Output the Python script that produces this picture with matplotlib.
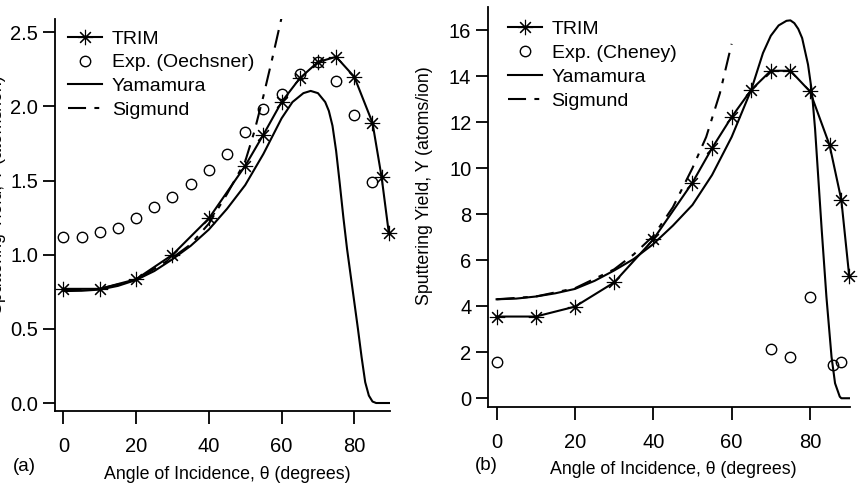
import matplotlib
matplotlib.use('Agg')
import matplotlib.pyplot as plt

plt.rcParams['font.family'] = ['Liberation Sans', 'DejaVu Sans']
plt.rcParams['lines.scale_dashes'] = False

# ---- panel (a) ----
trim_a_x = [0, 10, 20, 30, 40, 50, 55, 60, 65, 70, 75, 80, 85, 87.5, 89.5]
trim_a_y = [0.77, 0.77, 0.835, 1.0, 1.245, 1.60, 1.81, 2.03, 2.19, 2.30, 2.335, 2.20, 1.89, 1.525, 1.145]
exp_a_x = [0, 5, 10, 15, 20, 25, 30, 35, 40, 45, 50, 55, 60, 65, 70, 75, 80, 85]
exp_a_y = [1.12, 1.12, 1.155, 1.18, 1.25, 1.32, 1.39, 1.48, 1.57, 1.68, 1.83, 1.98, 2.085, 2.22,
           2.30, 2.17, 1.945, 1.49]
yam_a_x = [0, 5, 10, 15, 20, 25, 30, 35, 40, 45, 50, 55, 60, 63, 66, 68, 70, 72, 73, 74, 75, 76,
           77, 78, 80, 81, 82, 83, 84, 85, 86, 90]
yam_a_y = [0.755, 0.757, 0.765, 0.79, 0.83, 0.89, 0.97, 1.06, 1.17, 1.31, 1.47, 1.68, 1.92, 2.03,
           2.09, 2.105, 2.09, 2.03, 1.97, 1.87, 1.70, 1.48, 1.25, 1.04, 0.68, 0.50, 0.31, 0.14,
           0.05, 0.01, 0.0, 0.0]
sig_a_x = [0, 10, 20, 30, 35, 40, 45, 50, 52.5, 55, 57.5, 60]
sig_a_y = [0.76, 0.77, 0.83, 0.98, 1.07, 1.21, 1.41, 1.63, 1.83, 2.07, 2.33, 2.60]

# ---- panel (b) ----
trim_b_x = [0, 10, 20, 30, 40, 50, 55, 60, 65, 70, 75, 80, 85, 88, 90]
trim_b_y = [3.55, 3.55, 3.98, 5.03, 6.9, 9.37, 10.87, 12.22, 13.4, 14.23, 14.23, 13.33, 11.0, 8.62, 5.33]
exp_b_x = [0, 70, 75, 80, 86, 88]
exp_b_y = [1.59, 2.13, 1.81, 4.42, 1.46, 1.59]
yam_b_x = [0, 5, 10, 15, 20, 25, 30, 35, 40, 45, 50, 55, 60, 65, 68, 70, 72, 74, 75, 76, 77, 78,
           79.5, 80.5, 81.3, 83, 84.2, 85.5, 86.4, 87.6, 88, 90]
yam_b_y = [4.3, 4.33, 4.42, 4.56, 4.75, 5.1, 5.55, 6.05, 6.7, 7.5, 8.4, 9.7, 11.35, 13.4, 15.0,
           15.75, 16.2, 16.4, 16.42, 16.3, 16.05, 15.65, 14.5, 13.3, 11.7, 7.3, 4.4, 1.8, 0.65,
           0.07, 0.0, 0.0]
sig_b_x = [0, 10, 20, 30, 35, 40, 45, 50, 53.5, 57, 60]
sig_b_y = [4.3, 4.42, 4.78, 5.6, 6.25, 7.05, 8.3, 10.0, 11.35, 13.25, 15.4]

star = (8, 2, 0)
lw = 1.5
fs_tick = 14.5
fs_leg = 14
fs_text = 12.8

fig = plt.figure(figsize=(8.6, 4.9), dpi=100)
ax1 = fig.add_axes([0.0640, 0.1612, 0.389, 0.800])
ax2 = fig.add_axes([0.5674, 0.1694, 0.4209, 0.8163])

panels = [
    (ax1, trim_a_x, trim_a_y, exp_a_x, exp_a_y, yam_a_x, yam_a_y, sig_a_x, sig_a_y,
     'Exp. (Oechsner)', (-2.3, 89.7), (-0.054, 2.59), [0.0, 0.5, 1.0, 1.5, 2.0, 2.5], '%.1f',
     (0.039, 0.972)),
    (ax2, trim_b_x, trim_b_y, exp_b_x, exp_b_y, yam_b_x, yam_b_y, sig_b_x, sig_b_y,
     'Exp. (Cheney)', (-2.2, 90.2), (-0.38, 17.0), [0, 2, 4, 6, 8, 10, 12, 14, 16], '%d',
     (0.055, 0.966)),
]

for (ax, tx, ty, ex, ey, yx, yy, sx, sy, exp_label, xl, yl, yt, fmt, leg_pos) in panels:
    ax.plot(tx, ty, color='black', lw=lw, marker=star, markersize=11, markeredgewidth=0.8,
            label='TRIM', clip_on=False, zorder=4)
    ax.plot(ex, ey, linestyle='none', marker='o', markersize=7.5, markerfacecolor='none',
            markeredgecolor='black', markeredgewidth=1.0, label=exp_label, clip_on=False, zorder=5)
    ax.plot(yx, yy, color='black', lw=lw, label='Yamamura', zorder=3)
    ax.plot(sx, sy, color='black', lw=lw, linestyle=(0, (13, 6, 3.5, 6)), label='Sigmund', zorder=3)

    ax.set_xlim(*xl)
    ax.set_ylim(*yl)
    ax.set_xticks([0, 20, 40, 60, 80])
    ax.set_yticks(yt)
    ax.set_yticklabels([fmt % v for v in yt])
    for s in ['top', 'right']:
        ax.spines[s].set_visible(False)
    for s in ['left', 'bottom']:
        ax.spines[s].set_linewidth(1.3)
    ax.tick_params(axis='both', direction='out', length=9, width=1.3, labelsize=fs_tick)
    ax.tick_params(axis='x', pad=10)
    ax.tick_params(axis='y', pad=3)

    ax.legend(loc='upper left', bbox_to_anchor=leg_pos, frameon=False, fontsize=fs_leg,
              handlelength=1.75, handletextpad=0.5, labelspacing=0.32, borderpad=0,
              borderaxespad=0, numpoints=1)

ylab = 'Sputtering Yield, Y (atoms/ion)'
xlab = 'Angle of Incidence, \u03b8 (degrees)'
fig.text(-0.0025, 0.602, ylab, rotation=90, ha='center', va='center', fontsize=fs_text)
fig.text(0.494, 0.621, ylab, rotation=90, ha='center', va='center', fontsize=fs_text)
fig.text(0.264, 0.031, xlab, ha='center', va='center', fontsize=fs_text)
fig.text(0.7826, 0.041, xlab, ha='center', va='center', fontsize=fs_text)
fig.text(0.028, 0.047, '(a)', ha='center', va='center', fontsize=13.5)
fig.text(0.565, 0.051, '(b)', ha='center', va='center', fontsize=13.5)

fig.savefig('out.png', dpi=100)
